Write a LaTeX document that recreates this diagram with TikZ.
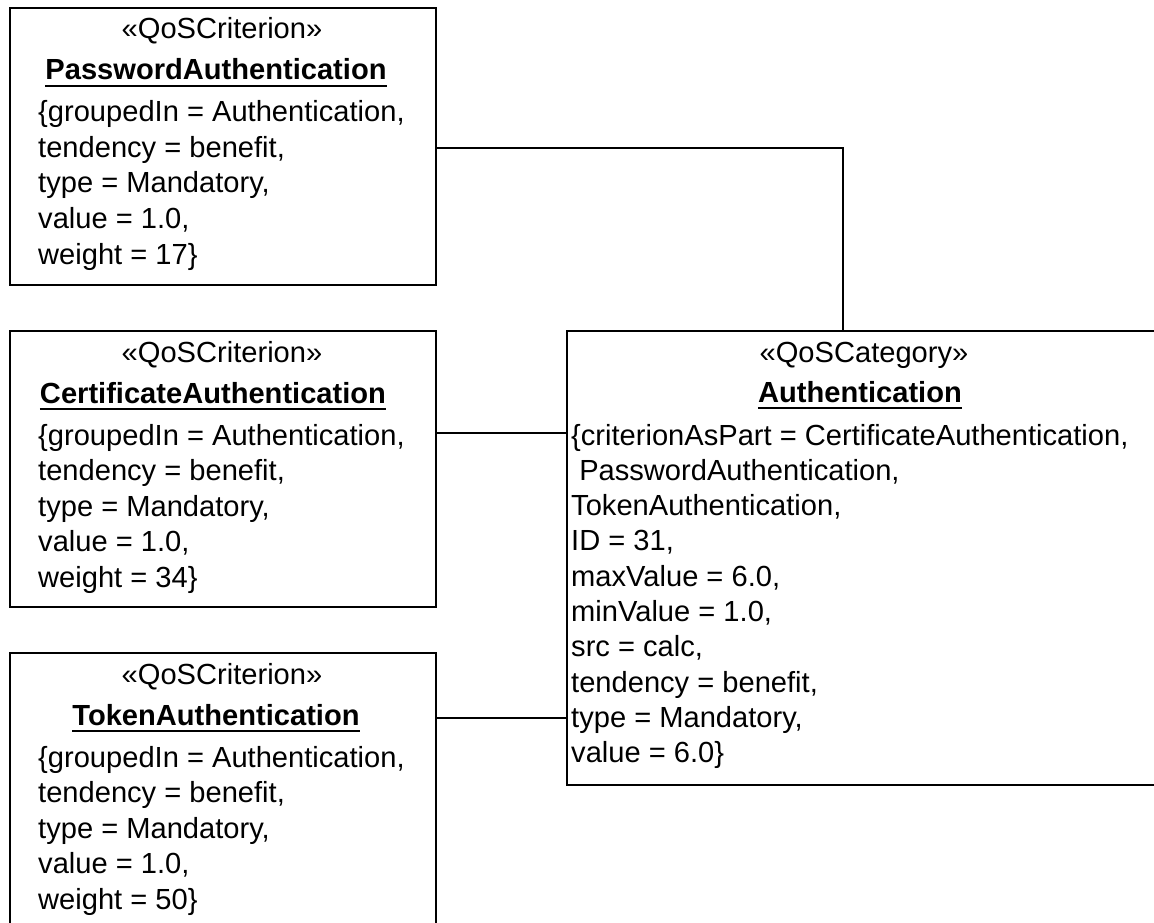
\documentclass[tikz,border=0pt]{standalone}
\usepackage{fontspec}
\setmainfont{Liberation Sans}
\usetikzlibrary{calc}
\begin{document}
\begin{tikzpicture}[x=1pt,y=-1pt,
  box/.style={draw=black, line width=1.6pt, inner sep=0pt, anchor=north west},
  txt/.style={inner sep=0pt, font=\fontsize{29.1}{35.5}\selectfont},
  btxt/.style={inner sep=0pt, font=\fontsize{29.1}{35.5}\selectfont\bfseries},
  conn/.style={draw=black, line width=1.6pt},
  uline/.style={draw=black, line width=1.6pt}]
\useasboundingbox (0,0) rectangle (1154,923);

% boxes
\node[box, minimum width=426pt, minimum height=277pt] (pw) at (9,7) {};
\node[box, minimum width=426pt, minimum height=276pt] (ce) at (9,330) {};
\node[box, minimum width=426pt, minimum height=290pt] (tk) at (9,652) {};
\node[box, minimum width=610pt, minimum height=454pt] (au) at (566,330) {};

% PasswordAuthentication
\node[txt, anchor=base] (pw-st) at (222,39) {«QoSCriterion»};
\node[btxt, anchor=base] (pw-nm) at (216,80) {PasswordAuthentication};
\draw[uline] ($(pw-nm.base west)+(0,6)$) -- ($(pw-nm.base east)+(0,6)$);
\foreach \l [count=\i from 0] in {{\{groupedIn = Authentication,}, {tendency = benefit,}, {type = Mandatory,}, {value = 1.0,}, {weight = 17\}}}
  \node[txt, anchor=base west] (pw-a\i) at (38,122+35.5*\i) {\l};

% CertificateAuthentication
\node[txt, anchor=base] (ce-st) at (222,362) {«QoSCriterion»};
\node[btxt, anchor=base] (ce-nm) at (213,403) {CertificateAuthentication};
\draw[uline] ($(ce-nm.base west)+(0,6)$) -- ($(ce-nm.base east)+(0,6)$);
\foreach \l [count=\i from 0] in {{\{groupedIn = Authentication,}, {tendency = benefit,}, {type = Mandatory,}, {value = 1.0,}, {weight = 34\}}}
  \node[txt, anchor=base west] (ce-a\i) at (38,445+35.5*\i) {\l};

% TokenAuthentication
\node[txt, anchor=base] (tk-st) at (222,684) {«QoSCriterion»};
\node[btxt, anchor=base] (tk-nm) at (216,725) {TokenAuthentication};
\draw[uline] ($(tk-nm.base west)+(0,6)$) -- ($(tk-nm.base east)+(0,6)$);
\foreach \l [count=\i from 0] in {{\{groupedIn = Authentication,}, {tendency = benefit,}, {type = Mandatory,}, {value = 1.0,}, {weight = 50\}}}
  \node[txt, anchor=base west] (tk-a\i) at (38,767+35.5*\i) {\l};

% Authentication category
\node[txt, anchor=base] (au-st) at (864,362) {«QoSCategory»};
\node[btxt, anchor=base] (au-nm) at (860,402) {Authentication};
\draw[uline] ($(au-nm.base west)+(0,6)$) -- ($(au-nm.base east)+(0,6)$);
\foreach \l [count=\i from 0] in {{\{criterionAsPart = CertificateAuthentication,}, {\ PasswordAuthentication,}, {TokenAuthentication,}, {ID = 31,}, {maxValue = 6.0,}, {minValue = 1.0,}, {src = calc,}, {tendency = benefit,}, {type = Mandatory,}, {value = 6.0\}}}
  \node[txt, anchor=base west] (au-a\i) at (571,445+35.3*\i) {\l};

% connectors
\coordinate (bend) at (843,148);
\coordinate (c2) at (500,433);
\coordinate (c3) at (500,718);
\draw[conn] (pw.east |- bend) -- (bend) -- (bend |- au.north);
\draw[conn] (ce.east |- c2) -- (au.west |- c2);
\draw[conn] (tk.east |- c3) -- (au.west |- c3);
\end{tikzpicture}
\end{document}
